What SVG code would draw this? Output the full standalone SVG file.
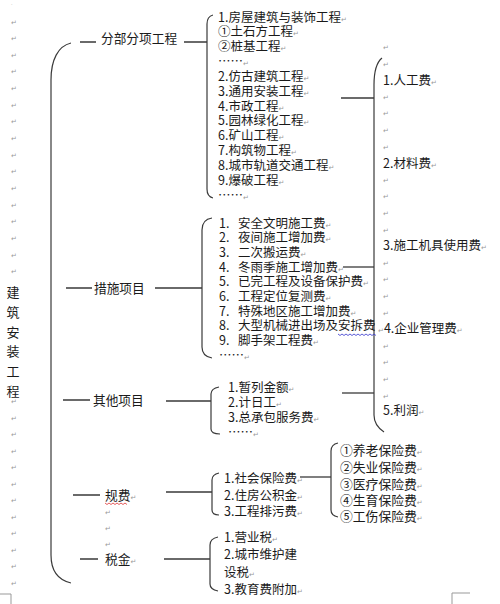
<svg xmlns="http://www.w3.org/2000/svg" width="500" height="604" viewBox="0 0 500 604">
<style>
text{font-family:"Noto Sans CJK SC","Liberation Sans",sans-serif;fill:#1a1a1a;font-size:12.5px}
.lbl{font-size:12.7px}
.v{font-size:13px}
.pm text{font-family:"DejaVu Sans",sans-serif;font-size:7px;fill:#999}
tspan.p{font-family:"DejaVu Sans",sans-serif;font-size:7px;fill:#999}
.ln{stroke:#3a3a3a;stroke-width:1.3;fill:none}
.br{stroke:#3a3a3a;stroke-width:1.2;fill:none}
.crop{stroke:#999;stroke-width:1;fill:none}
</style>
<rect width="500" height="604" fill="#fff"/>

<g id="left-marks" class="pm">
<text x="11" y="6" style="font-size:5px">·</text>
<text x="11" y="24.5">↵</text><text x="11" y="41">↵</text><text x="11" y="57.5">↵</text><text x="11" y="74">↵</text>
<text x="11" y="90.5">↵</text><text x="11" y="107.5">↵</text><text x="11" y="124">↵</text><text x="11" y="140.5">↵</text>
<text x="11" y="157.5">↵</text><text x="11" y="174">↵</text><text x="11" y="190.5">↵</text><text x="11" y="207.5">↵</text>
<text x="11" y="224">↵</text><text x="11" y="240.5">↵</text><text x="11" y="257.5">↵</text><text x="11" y="274">↵</text>
<text x="11" y="404">↵</text><text x="11" y="420.5">↵</text><text x="11" y="437">↵</text><text x="11" y="453.5">↵</text>
<text x="11" y="470">↵</text><text x="11" y="486.5">↵</text><text x="11" y="503">↵</text><text x="11" y="519.5">↵</text>
<text x="11" y="536">↵</text><text x="11" y="552.5">↵</text><text x="11" y="569">↵</text><text x="11" y="585.5">↵</text>
</g>

<g id="root">
<text class="v"><tspan x="6.5" y="297">建</tspan><tspan x="6.5" y="317">筑</tspan><tspan x="6.5" y="337">安</tspan><tspan x="6.5" y="356">装</tspan><tspan x="6.5" y="376">工</tspan><tspan x="6.5" y="396">程</tspan></text>
</g>

<g id="connectors">
<path class="br" d="M71,43 C58,46 51,60 51,80 L51,555 C51,570 58,580 71,583"/>
<path class="ln" d="M80,42 H96 M184,42 H207"/>
<path class="ln" d="M66,288 H92 M155,288 H202"/>
<path class="ln" d="M63,400 H90 M166,401 H211"/>
<path class="ln" d="M73,495 H100 M166,492 H212"/>
<path class="ln" d="M80,559 H98 M164,559 H210"/>
<path class="br" d="M213,15 C209,16 207,19 207,24 L207,189 C207,194 209,197 213,198"/>
<path class="br" d="M212,218 C205,219 202,223 202,230 L202,347 C202,354 206,357 212,358"/>
<path class="br" d="M219,387 C214,388 211,390 211,394 L211,429 C211,432 214,434 220,434"/>
<path class="br" d="M219,473 C214,474 212,476 212,480 L212,510 C212,513 214,515 219,515"/>
<path class="br" d="M338,443 C333,444 331,447 331,451 L331,510 C331,514 333,516 338,517"/>
<path class="br" d="M218,537 C213,538 210,541 210,545 L210,584 C210,588 213,590 218,591"/>
<path class="br" d="M382,58 C377,62 374,70 374,85 L374,415 C374,423 378,428 384,432"/>
<path class="ln" d="M341,98 H374"/>
<path class="ln" d="M343,267 H374"/>
<path class="ln" d="M342,393 H374"/>
<path class="ln" d="M300,477 H331"/>
</g>

<g id="n-fenbu"><text class="lbl" x="101" y="42.5">分部分项工程</text></g>
<g id="n-cuoshi"><text class="lbl" x="94" y="292.5">措施项目</text></g>
<g id="n-qita"><text class="lbl" x="93" y="404.5">其他项目</text></g>
<g id="n-guifei"><text class="lbl" x="105" y="499.5">规费<tspan class="p">↵</tspan></text>
<path d="M105,503 l2,1.5 l2,-1.5 l2,1.5 l2,-1.5 l2,1.5 l2,-1.5 l2,1.5 l2,-1.5 l2,1.5 l2,-1.5 l2,1.5" stroke="#d33" stroke-width="0.8" fill="none"/>
<g class="pm"><text x="105" y="515">↵</text><text x="105" y="531">↵</text><text x="105" y="547">↵</text></g>
</g>
<g id="n-shuijin"><text class="lbl" x="105" y="563.5">税金<tspan class="p">↵</tspan></text></g>

<g id="list-fenbu">
<text><tspan x="218" y="21.5">1.房屋建筑与装饰工程</tspan><tspan class="p">↵</tspan><tspan x="218" y="36.3">①土石方工程</tspan><tspan class="p">↵</tspan><tspan x="218" y="51.2">②桩基工程</tspan><tspan class="p">↵</tspan><tspan x="218" y="66">……</tspan><tspan class="p">↵</tspan><tspan x="218" y="80.8">2.仿古建筑工程</tspan><tspan class="p">↵</tspan><tspan x="218" y="95.7">3.通用安装工程</tspan><tspan class="p">↵</tspan><tspan x="218" y="110.5">4.市政工程</tspan><tspan class="p">↵</tspan><tspan x="218" y="125.3">5.园林绿化工程</tspan><tspan class="p">↵</tspan><tspan x="218" y="140.2">6.矿山工程</tspan><tspan class="p">↵</tspan><tspan x="218" y="155">7.构筑物工程</tspan><tspan class="p">↵</tspan><tspan x="218" y="169.8">8.城市轨道交通工程</tspan><tspan class="p">↵</tspan><tspan x="218" y="184.7">9.爆破工程</tspan><tspan class="p">↵</tspan><tspan x="218" y="199.5">……</tspan><tspan class="p">↵</tspan></text>
</g>

<g id="list-cuoshi">
<text><tspan x="219" y="227.5">1.</tspan><tspan x="238">安全文明施工费</tspan><tspan class="p">↵</tspan><tspan x="219" y="242.1">2.</tspan><tspan x="238">夜间施工增加费</tspan><tspan class="p">↵</tspan><tspan x="219" y="256.8">3.</tspan><tspan x="238">二次搬运费</tspan><tspan class="p">↵</tspan><tspan x="219" y="271.5">4.</tspan><tspan x="238">冬雨季施工增加费</tspan><tspan class="p">↵</tspan><tspan x="219" y="286.1">5.</tspan><tspan x="238">已完工程及设备保护费</tspan><tspan class="p">↵</tspan><tspan x="219" y="300.8">6.</tspan><tspan x="238">工程定位复测费</tspan><tspan class="p">↵</tspan><tspan x="219" y="315.5">7.</tspan><tspan x="238">特殊地区施工增加费</tspan><tspan class="p">↵</tspan><tspan x="219" y="330.1">8.</tspan><tspan x="238">大型机械进出场及安拆费</tspan><tspan x="219" y="344.8">9.</tspan><tspan x="238">脚手架工程费</tspan><tspan class="p">↵</tspan><tspan x="219" y="359.5">……</tspan><tspan class="p">↵</tspan></text>
<path d="M338,334 l2,1.5 l2,-1.5 l2,1.5 l2,-1.5 l2,1.5 l2,-1.5 l2,1.5 l2,-1.5 l2,1.5 l2,-1.5 l2,1.5 l2,-1.5 l2,1.5 l2,-1.5 l2,1.5 l2,-1.5 l2,1.5 l2,-1.5 l2,1.5" stroke="#33c" stroke-width="0.8" fill="none"/>
</g>

<g id="list-qita">
<text><tspan x="228" y="391.5">1.暂列金额</tspan><tspan class="p">↵</tspan><tspan x="228" y="406.5">2.计日工</tspan><tspan class="p">↵</tspan><tspan x="228" y="421.5">3.总承包服务费</tspan><tspan class="p">↵</tspan><tspan x="228" y="436.5">……</tspan><tspan class="p">↵</tspan></text>
</g>

<g id="list-guifei">
<text><tspan x="224" y="482.5">1.社会保险费</tspan><tspan class="p">↵</tspan><tspan x="224" y="499.5">2.住房公积金</tspan><tspan class="p">↵</tspan><tspan x="224" y="515.5">3.工程排污费</tspan><tspan class="p">↵</tspan></text>
</g>

<g id="list-shebao">
<text style="font-size:12.8px"><tspan x="340" y="454.5">①养老保险费</tspan><tspan class="p">↵</tspan><tspan x="340" y="471.5">②失业保险费</tspan><tspan class="p">↵</tspan><tspan x="340" y="488.5">③医疗保险费</tspan><tspan class="p">↵</tspan><tspan x="340" y="504.5">④生育保险费</tspan><tspan class="p">↵</tspan><tspan x="340" y="520.5">⑤工伤保险费</tspan><tspan class="p">↵</tspan></text>
</g>

<g id="list-shuijin">
<text><tspan x="224" y="541.5">1.营业税</tspan><tspan class="p">↵</tspan><tspan x="224" y="558.5">2.城市维护建</tspan><tspan x="224" y="576.5">设税</tspan><tspan class="p">↵</tspan><tspan x="224" y="593.5">3.教育费附加</tspan><tspan class="p">↵</tspan></text>
</g>

<g id="list-cost">
<g class="pm">
<text x="383" y="50">↵</text><text x="383" y="66.6">↵</text>
<text x="383" y="99.8">↵</text><text x="383" y="116.4">↵</text><text x="383" y="133">↵</text><text x="383" y="149.6">↵</text>
<text x="383" y="182.8">↵</text><text x="383" y="199.4">↵</text><text x="383" y="216">↵</text><text x="383" y="232.6">↵</text>
<text x="383" y="265.8">↵</text><text x="383" y="282.4">↵</text><text x="383" y="299">↵</text><text x="383" y="315.6">↵</text>
<text x="383" y="348.8">↵</text><text x="383" y="365.4">↵</text><text x="383" y="382">↵</text><text x="383" y="398.6">↵</text>
</g>
<text x="383" y="84.5">1.人工费<tspan class="p">↵</tspan></text>
<text x="383" y="167.5">2.材料费<tspan class="p">↵</tspan></text>
<text x="383" y="250">3.施工机具使用费<tspan class="p">↵</tspan></text>
<text x="378" y="333"><tspan class="p">↵</tspan>4.企业管理费<tspan class="p">↵</tspan></text>
<text x="383" y="415">5.利润<tspan class="p">↵</tspan></text>
</g>

<path class="crop" d="M0,594 H11 V604 M452,604 V593 H470"/>
</svg>
